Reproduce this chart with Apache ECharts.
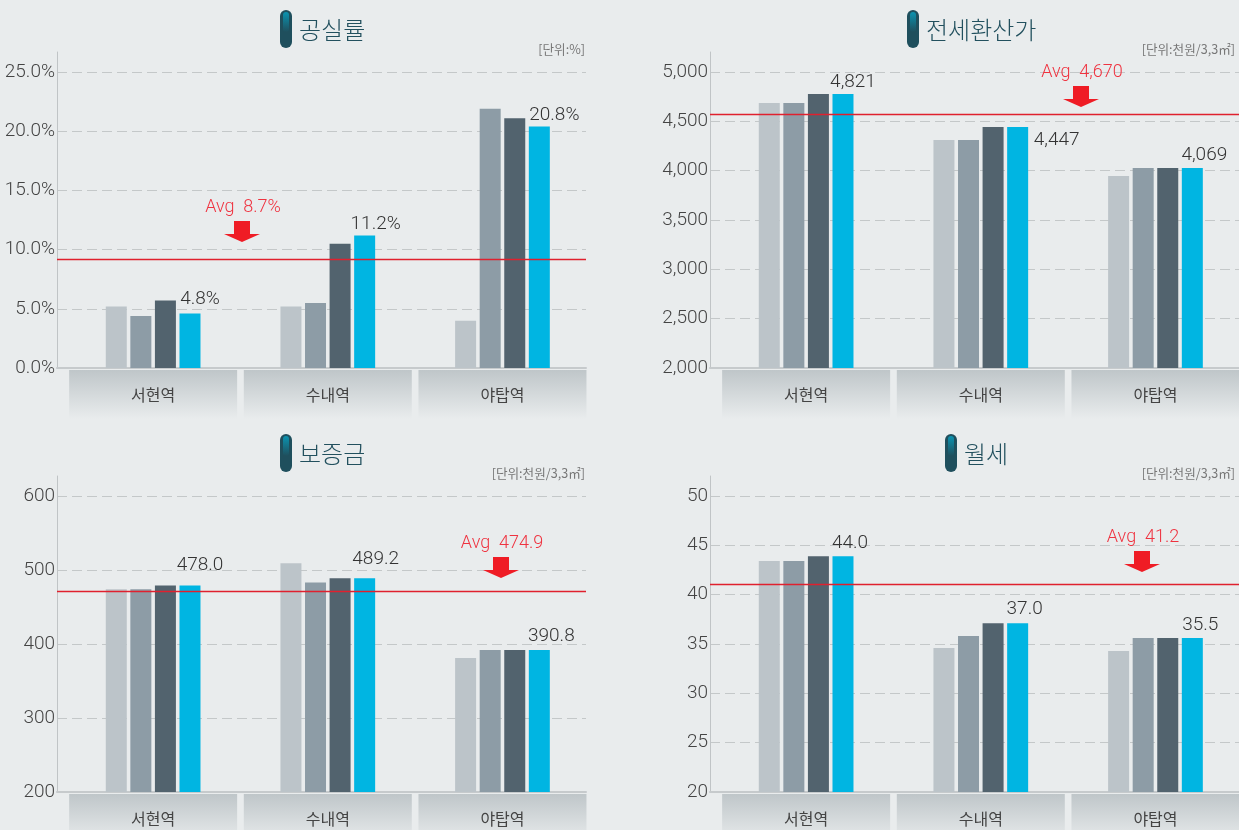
<!DOCTYPE html>
<html>
<head>
<meta charset="utf-8">
<style>
  html, body { margin: 0; padding: 0; background: #e9eced; }
  #chart { width: 1239px; height: 830px; }
</style>
<script src="https://cdn.jsdelivr.net/npm/echarts@6/dist/echarts.min.js"></script>
</head>
<body>
<div id="chart"></div>
<script>
  const categories = ['서현역', '수내역', '야탑역'];

  // 공실률
  const vacancyA = [5.2, 5.2, 4.0];
  const vacancyB = [4.4, 5.5, 21.9];
  const vacancyC = [5.7, 10.5, 21.1];
  const vacancyD = [4.6, 11.2, 20.4];
  const vacancyAvg = [9.16, 9.16, 9.16];
  const vacancyLabels = ['4.8%', '11.2%', '20.8%'];
  // 전세환산가
  const jeonseA = [4686, 4311, 3946];
  const jeonseB = [4686, 4311, 4027];
  const jeonseC = [4777, 4443, 4027];
  const jeonseD = [4777, 4443, 4027];
  const jeonseAvg = [4569, 4569, 4569];
  const jeonseLabels = ['4,821', '4,447', '4,069'];
  // 보증금
  const depositA = [474, 509, 381];
  const depositB = [474, 483, 392];
  const depositC = [479, 489, 392];
  const depositD = [479, 489, 392];
  const depositAvg = [471, 471, 471];
  const depositLabels = ['478.0', '489.2', '390.8'];
  // 월세
  const rentA = [43.4, 34.6, 34.3];
  const rentB = [43.4, 35.8, 35.6];
  const rentC = [43.9, 37.1, 35.6];
  const rentD = [43.9, 37.1, 35.6];
  const rentAvg = [41.03, 41.03, 41.03];
  const rentLabels = ['44.0', '37.0', '35.5'];

  const barColors = ['#bcc4c9', '#8d9ca6', '#52636e', '#00b5e2'];
  const textFont = 'Roboto, "Liberation Sans", sans-serif';
  const krFont = '"Noto Sans CJK KR", sans-serif';

  const panels = [
    {
      title: '공실률', unit: '[단위:%]', series: [vacancyA, vacancyB, vacancyC, vacancyD], labels: vacancyLabels,
      min: 0, top: 25, interval: 5, avg: vacancyAvg, avgText: 'Avg  8.7%',
      fmt: v => v.toFixed(1) + '%',
      left: 57, gridTop: 52, pillX: 280, avgX: 243, avgY: 207,
      shift: [[10, -3], [11, 0], [15, 0]]
    },
    {
      title: '전세환산가', unit: '[단위:천원/3,3㎡]', series: [jeonseA, jeonseB, jeonseC, jeonseD], labels: jeonseLabels,
      min: 2000, top: 5000, interval: 500, avg: jeonseAvg, avgText: 'Avg  4,670',
      fmt: v => v.toLocaleString('en-US'),
      left: 710, gridTop: 52, pillX: 907, avgX: 1082, avgY: 72,
      shift: [[10, 0], [39, 25], [12, -1]]
    },
    {
      title: '보증금', unit: '[단위:천원/3,3㎡]', series: [depositA, depositB, depositC, depositD], labels: depositLabels,
      min: 200, top: 600, interval: 100, avg: depositAvg, avgText: 'Avg  474.9',
      fmt: v => String(v),
      left: 57, gridTop: 476, pillX: 280, avgX: 502, avgY: 543,
      shift: [[10, -9], [11, -7], [12, -2]]
    },
    {
      title: '월세', unit: '[단위:천원/3,3㎡]', series: [rentA, rentB, rentC, rentD], labels: rentLabels,
      min: 20, top: 50, interval: 5, avg: rentAvg, avgText: 'Avg  41.2',
      fmt: v => String(v),
      left: 710, gridTop: 476, pillX: 945, avgX: 1143, avgY: 537,
      shift: [[7, -1], [7, -3], [8, -1]]
    }
  ];

  const gridWidth = 529;
  const gridHeight = 316;
  const chart = echarts.init(document.getElementById('chart'));

  const grid = [], xAxis = [], yAxis = [], series = [], graphic = [];

  const tileFill = new echarts.graphic.LinearGradient(0, 0, 0, 1, [
    { offset: 0, color: '#bfc6c9' },
    { offset: 1, color: '#e9eced' }
  ]);

  panels.forEach((p, i) => {
    const axisGrid = i * 2;
    const barGrid = i * 2 + 1;
    // 눈금 위쪽 20px 여백까지 축을 늘린다
    const yMax = p.top + (p.top - p.min) * 20 / 296;

    // 축, 보조선, 평균선
    grid.push({ left: p.left, top: p.gridTop, width: gridWidth, height: gridHeight, outerBoundsMode: 'none' });
    xAxis.push({
      gridIndex: axisGrid, type: 'category', data: categories, boundaryGap: false,
      axisTick: { show: false }, axisLabel: { show: false },
      axisLine: { lineStyle: { color: '#c6cacc', width: 2 } }
    });
    yAxis.push({
      gridIndex: axisGrid, type: 'value', min: p.min, max: yMax, interval: p.interval,
      axisTick: { show: false },
      axisLine: { show: true, lineStyle: { color: '#c0c4c6', width: 1 } },
      axisLabel: {
        showMaxLabel: false, margin: 2, color: '#444', fontSize: 19, fontWeight: 300, fontFamily: textFont,
        padding: [4, 0, 0, 0],
        formatter: p.fmt
      },
      splitLine: { showMaxLine: false, lineStyle: { color: '#c4c8c9', type: [10, 5], width: 1 } }
    });

    // 막대 영역은 축보다 오른쪽으로 치우쳐 있다
    grid.push({ left: p.left + 8.8, top: p.gridTop, width: 524, height: gridHeight, outerBoundsMode: 'none' });
    xAxis.push({
      gridIndex: barGrid, type: 'category', data: categories,
      axisTick: { show: false }, axisLine: { show: false },
      axisLabel: {
        interval: 0, margin: 2, color: '#444', fontSize: 16, fontFamily: krFont,
        width: 168, height: 49, lineHeight: 49, align: 'center', verticalAlign: 'top',
        backgroundColor: tileFill
      }
    });
    yAxis.push({ gridIndex: barGrid, type: 'value', min: p.min, max: yMax, show: false });

    p.series.forEach((values, s) => {
      series.push({
        type: 'bar', xAxisIndex: barGrid, yAxisIndex: barGrid,
        barWidth: 21, barGap: '17%', silent: true,
        itemStyle: { color: barColors[s] },
        data: values.map((v, c) => s === 3 ? {
          value: v,
          label: {
            show: true, position: 'top', distance: 2, offset: p.shift[c],
            formatter: p.labels[c], color: '#333', fontSize: 19, fontWeight: 300, fontFamily: textFont
          }
        } : v)
      });
    });

    series.push({
      type: 'line', xAxisIndex: axisGrid, yAxisIndex: axisGrid, data: p.avg, z: 5,
      symbol: 'none', silent: true,
      lineStyle: { color: '#e0202e', width: 1.5 }
    });

    // 제목 아이콘
    const titleY = p.gridTop - 22;
    graphic.push({
      type: 'rect', x: p.pillX, y: titleY - 20,
      shape: { width: 12, height: 38, r: 6 },
      style: { fill: '#1f4f5d' }
    });
    graphic.push({
      type: 'rect', x: p.pillX + 3, y: titleY - 18,
      shape: { width: 6, height: 20, r: 3 },
      style: {
        fill: new echarts.graphic.LinearGradient(0, 0, 0, 1, [
          { offset: 0, color: '#0b93b0' },
          { offset: 1, color: '#1f4f5d' }
        ])
      }
    });
    graphic.push({
      type: 'text', x: p.pillX + 19, y: titleY,
      style: { text: p.title, fill: '#22505e', font: '300 24px ' + krFont, textVerticalAlign: 'middle' }
    });
    graphic.push({
      type: 'text', x: p.left + (p.left > 100 ? 525 : 528), y: p.gridTop - 3,
      style: { text: p.unit, fill: '#777', font: '12.6px ' + krFont, textAlign: 'right', textVerticalAlign: 'middle' }
    });

    // 평균 표시
    graphic.push({
      type: 'text', x: p.avgX, y: p.avgY, z: 10,
      style: { text: p.avgText, fill: '#ef3340', font: '300 18px ' + textFont, textAlign: 'center', textVerticalAlign: 'middle' }
    });
    graphic.push({
      type: 'polygon', x: p.avgX - 1, y: p.avgY + 14, z: 10,
      shape: { points: [[-8, 0], [8, 0], [8, 13], [18, 13], [0, 21], [-18, 13], [-8, 13]] },
      style: { fill: '#ef1c25' }
    });
  });

  chart.setOption({
    backgroundColor: '#e9eced',
    animation: false,
    grid: grid,
    xAxis: xAxis,
    yAxis: yAxis,
    series: series,
    graphic: graphic
  });
</script>
</body>
</html>
